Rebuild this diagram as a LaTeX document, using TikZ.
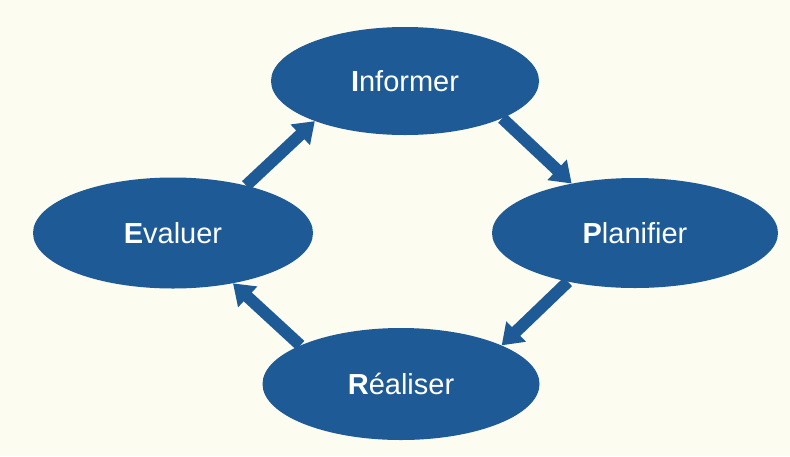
\documentclass[tikz,border=0pt]{standalone}
\usepackage{fontspec}
\setmainfont{Liberation Sans}
\usetikzlibrary{shapes.geometric,arrows.meta}
\definecolor{bleu}{RGB}{30,90,150}
\definecolor{fond}{RGB}{252,252,240}
\tikzset{
  etape/.style={ellipse,fill=bleu,draw=none,inner sep=0pt,text=white,
    font=\fontsize{29}{34}\selectfont},
  fleche/.style={draw=bleu,line width=12pt,-{Triangle[width=27pt,length=20pt]}}
}
\begin{document}
\begin{tikzpicture}[x=1pt,y=-1pt]
	\fill[fond] (0,0) rectangle (790,456);
	\useasboundingbox (0,0) rectangle (790,456);

	\node (I)[etape,minimum width=268pt,minimum height=108pt] at (405,81) {\textbf{I}nformer};
	\node (P)[etape,minimum width=286pt,minimum height=110pt] at (635,233) {\textbf{P}lanifier};
	\node (R)[etape,minimum width=277pt,minimum height=112pt] at (401,384) {\textbf{R}éaliser};
	\node (E)[etape,minimum width=280pt,minimum height=111pt] at (173,233) {\textbf{E}valuer};

	\draw[fleche]
	(E.33) -- (I.204);
	\draw[fleche]
	(I.339) -- (P.142);
	\draw[fleche]
	(P.216) -- (R.21);
	\draw[fleche]
	(R.159) -- (E.320);

\end{tikzpicture}
\end{document}
